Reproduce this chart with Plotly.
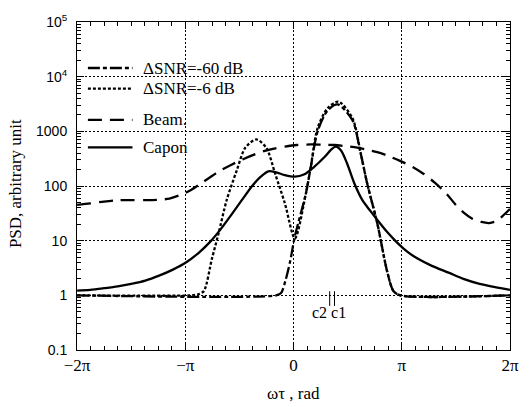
import math
import plotly.graph_objects as go

PI = math.pi

# ---- data ----
capon_x = [-6.28, -5.9, -5.5, -5.1, -4.71, -4.3, -3.9, -3.5, -3.1, -2.75, -2.4, -2.1,
           -1.8, -1.5, -1.2, -0.95, -0.73, -0.5, -0.25, 0.04, 0.3, 0.6, 0.9, 1.1,
           1.23, 1.38, 1.55, 1.77, 2.0, 2.23, 2.43, 2.7, 3.0, 3.3, 3.6, 4.0, 4.5,
           4.93, 5.4, 5.85, 6.28]
capon_y = [1.22, 1.26, 1.35, 1.46, 1.62, 1.86, 2.29, 2.95, 4.07, 6.0, 9.8, 16.6,
           30, 55, 100, 148, 186, 178, 158, 148, 162, 224, 339, 468,
           525, 447, 263, 110, 55, 35, 24, 14.8, 9.3, 6.3, 4.7, 3.5, 2.6,
           2.0, 1.62, 1.41, 1.26]

beam_x = [-6.28, -5.9, -5.5, -5.1, -4.71, -4.3, -3.9, -3.6, -3.3, -3.0, -2.7, -2.4,
          -2.1, -1.8, -1.5, -1.2, -0.9, -0.6, -0.25, 0.1, 0.5, 0.85, 1.19, 1.5,
          1.85, 2.15, 2.43, 2.75, 3.09, 3.45, 3.78, 4.1, 4.44, 4.7, 4.93, 5.2,
          5.45, 5.68, 5.9, 6.1, 6.28]
beam_y = [45, 48, 52, 55, 55, 55, 56, 59, 68, 83, 110, 148,
          195, 245, 302, 363, 427, 479, 525, 562, 575, 569, 562, 537,
          501, 457, 417, 355, 288, 224, 166, 115, 72, 46, 33, 25,
          22, 21, 23, 29.5, 38]

snr6_x = [-6.28, -3.0, -2.75, -2.6, -2.37, -2.17, -1.94, -1.65, -1.4, -1.08, -0.79, -0.53,
          -0.25, 0.04, 0.36, 0.5, 0.7, 0.99, 1.3, 1.71, 1.94, 2.14, 2.43, 2.72, 2.9, 3.1, 6.28]
snr6_y = [1, 1, 1.05, 1.2, 4.6, 14, 55, 190, 500, 710, 500, 166,
          48, 11, 73, 220, 1150, 2650, 3500, 1750, 430, 110, 21, 2.7, 1.2, 1, 1]

snr60_x = [-6.28, -0.5, -0.36, -0.24, -0.1, 0.04, 0.36, 0.5, 0.7, 0.99, 1.28, 1.71,
           1.94, 2.14, 2.43, 2.72, 2.9, 3.1, 6.28]
snr60_y = [1, 1, 1.1, 1.8, 4.1, 12, 73, 220, 1000, 2400, 3100, 1600,
           420, 110, 21, 2.7, 1.2, 1, 1]

legend_labels = ["\u0394SNR=-60 dB", "\u0394SNR=-6 dB", "Beam.", "Capon"]
x_tick_vals = [k * PI for k in range(-2, 3)]
x_tick_text = ["\u22122\u03c0", "\u2212\u03c0", "0", "\u03c0", "2\u03c0"]
x_half_grid = [k * PI / 2 for k in (-3, -1, 1, 3)]
y_tick_vals = [0.1, 1, 10, 100, 1000, 1e4, 1e5]
y_tick_text = ["0.1", "1", "10", "100", "1000", "10<sup>4</sup>", "10<sup>5</sup>"]

# ---- styles ----
dashes = ["12px,3px,4px,3px", "3px,2px", "14px,8px", "solid"]
LW = 2.3
GRID_DASH = "2px,2px"
SERIF = "Liberation Serif, Times New Roman, serif"
SANS = "Liberation Sans, Arial, sans-serif"

fig = go.Figure()
series = [(snr60_x, snr60_y), (snr6_x, snr6_y), (beam_x, beam_y), (capon_x, capon_y)]
for (xs, ys), dsh, name in zip(series, dashes, legend_labels):
    fig.add_trace(go.Scatter(x=xs, y=ys, mode="lines", name=name,
                             line=dict(color="black", width=LW, dash=dsh,
                                       shape="spline", smoothing=0.8),
                             showlegend=False))

# minor ticks
x_minor = [k * PI / 8 for k in range(-16, 17) if k % 8 != 0]
y_minor = [m * 10 ** e for e in range(-1, 5) for m in range(2, 10)]

fig.update_xaxes(range=[-2 * PI, 2 * PI], tickmode="array", tickvals=x_tick_vals,
                 ticktext=x_tick_text, ticks="inside", ticklen=7, tickcolor="black",
                 showline=True, linecolor="black", linewidth=1, mirror="allticks",
                 showgrid=True, gridcolor="black", griddash=GRID_DASH, gridwidth=1,
                 zeroline=False, tickfont=dict(family=SERIF, size=17, color="black"),
                 minor=dict(tickmode="array", tickvals=x_minor, ticks="inside",
                            ticklen=4, tickcolor="black", showgrid=False))
fig.update_yaxes(type="log", range=[-1, 5], tickmode="array", tickvals=y_tick_vals,
                 ticktext=y_tick_text, ticks="inside", ticklen=7, tickcolor="black",
                 showline=True, linecolor="black", linewidth=1, mirror="allticks",
                 showgrid=True, gridcolor="black", griddash=GRID_DASH, gridwidth=1,
                 zeroline=False, tickfont=dict(family=SANS, size=14, color="black"),
                 ticklabelstandoff=6,
                 minor=dict(tickmode="array", tickvals=y_minor, ticks="inside",
                            ticklen=4, tickcolor="black", showgrid=False))

# overlay axis that only carries the extra grid lines at odd multiples of pi/2
fig.update_layout(xaxis2=dict(overlaying="x", anchor="y", side="bottom",
                              range=[-2 * PI, 2 * PI], tickmode="array",
                              tickvals=x_half_grid, showticklabels=False,
                              ticks="", showgrid=True, gridcolor="black",
                              griddash=GRID_DASH, gridwidth=1, zeroline=False,
                              showline=False))

# ---- manual legend (paper coordinates) ----
L, R, T, B = 77, 514, 15, 350
def px2paper_x(px):
    return (px - L) / (R - L)
def px2paper_y(py):
    return (B - py) / (B - T)

row_py = [62, 83, 115, 143]
for py, dsh, lab in zip(row_py, dashes, legend_labels):
    fig.add_shape(type="line", xref="paper", yref="paper",
                  x0=px2paper_x(88), x1=px2paper_x(133),
                  y0=px2paper_y(py), y1=px2paper_y(py),
                  line=dict(color="black", width=LW, dash=dsh))
    fig.add_annotation(xref="paper", yref="paper", x=px2paper_x(142), y=px2paper_y(py),
                       xanchor="left", yanchor="middle", text=lab, showarrow=False,
                       font=dict(family=SERIF, size=17, color="black"))

# c2 / c1 markers
for xv in [1.05, 1.19]:
    fig.add_shape(type="line", xref="x", yref="paper", x0=xv, x1=xv,
                  y0=px2paper_y(290), y1=px2paper_y(305),
                  line=dict(color="black", width=1))
fig.add_annotation(xref="x", yref="paper", x=1.03, y=px2paper_y(312),
                   text="c2 c1", showarrow=False, xanchor="center", yanchor="middle",
                   font=dict(family=SERIF, size=16, color="black"))

# axis titles
fig.add_annotation(xref="paper", yref="paper", x=0.5, y=px2paper_y(394),
                   text="\u03c9\u03c4 , rad", showarrow=False, xanchor="center",
                   yanchor="middle", font=dict(family=SERIF, size=17, color="black"))
fig.add_annotation(xref="paper", yref="paper", x=px2paper_x(15), y=px2paper_y(180),
                   text="PSD, arbitrary unit", showarrow=False, textangle=-90,
                   xanchor="center", yanchor="middle",
                   font=dict(family=SERIF, size=17, color="black"))

fig.update_layout(width=531, height=407, margin=dict(l=77, r=17, t=15, b=57),
                  plot_bgcolor="white", paper_bgcolor="white", showlegend=False)

fig.write_html("out.html")
